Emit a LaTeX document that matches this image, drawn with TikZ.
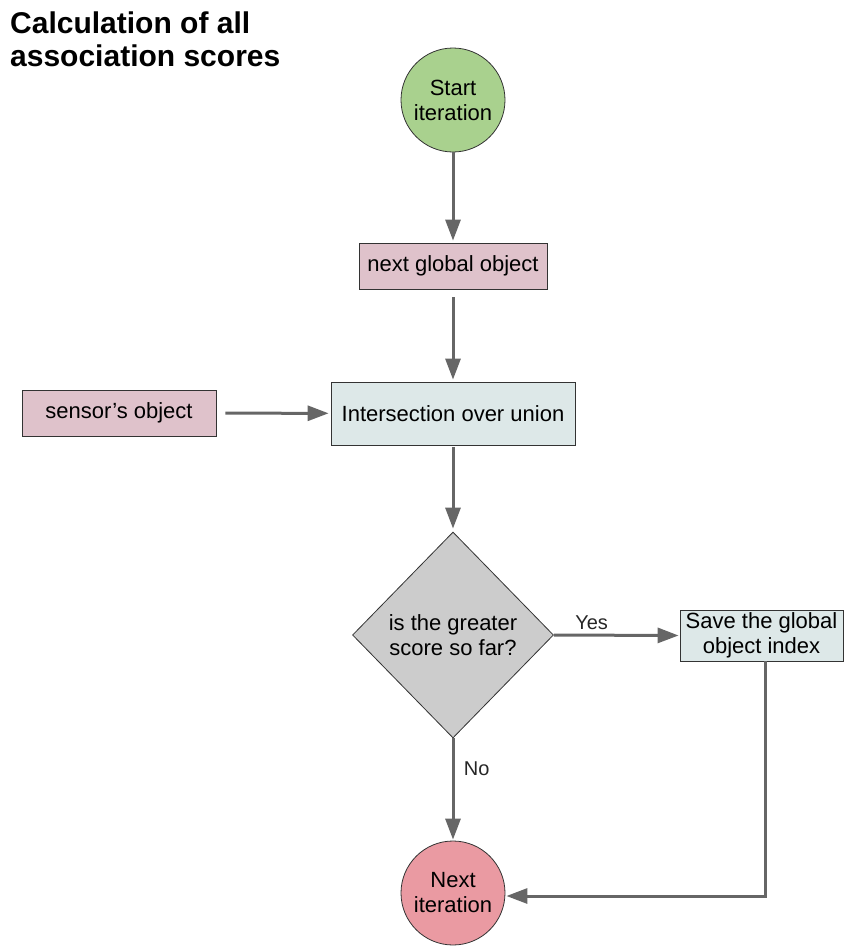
\documentclass[tikz,border=0pt]{standalone}
\usepackage{fontspec}
\setmainfont{Liberation Sans}
\usetikzlibrary{shapes.geometric,arrows.meta}

\definecolor{startgreen}{HTML}{A9D18E}
\definecolor{objpink}{HTML}{DFC2CB}
\definecolor{procblue}{HTML}{DDE8E8}
\definecolor{decgrey}{HTML}{CCCCCC}
\definecolor{endred}{HTML}{EA9AA2}
\definecolor{flowgrey}{HTML}{666666}
\definecolor{edgedark}{HTML}{333333}

\tikzset{
  base/.style={draw=edgedark, line width=0.8pt, align=center, inner sep=2pt,
    font=\fontsize{22}{25}\selectfont, text=black},
  terminal/.style={base, circle, minimum size=104pt},
  databox/.style={base, rectangle, fill=objpink, minimum height=46pt},
  procbox/.style={base, rectangle, fill=procblue},
  decision/.style={base, diamond, fill=decgrey, minimum width=201pt, minimum height=206pt, inner sep=0pt},
  flow/.style={draw=flowgrey, line width=3pt, -{Triangle[length=21pt,width=15pt]}},
  flowlabel/.style={font=\fontsize{20}{24}\selectfont, text=black!85}
}

\begin{document}
\begin{tikzpicture}[x=1pt,y=-1pt]
  \useasboundingbox (0,0) rectangle (845,946);

  % heading
  \node[anchor=north west, inner sep=0pt, align=left,
        font=\fontsize{30}{32.5}\selectfont\bfseries] (title) at (10,12)
        {Calculation of all\\association scores};

  % nodes
  \node[terminal, fill=startgreen] (start) at (453,100) {Start\\iteration};
  \node[databox, minimum width=188pt] (nextobj) at (453,266) {next global object};
  \node[procbox, minimum width=244pt, minimum height=63pt] (iou) at (453,413.5) {Intersection over union};
  \node[databox, minimum width=194pt] (sensor) at (119,413) {sensor’s object};
  \node[decision] (dec) at (453,635) {is the greater\\score so far?};
  \node[procbox, minimum width=163pt, minimum height=51pt, inner sep=0pt] (save) at (761.5,635.5) {Save the global\\object index};
  \node[terminal, fill=endred] (next) at (453,893) {Next\\iteration};
  \coordinate (corner) at (765,896);

  % connectors
  \draw[flow, shorten >=2pt] (start) -- (nextobj);
  \draw[flow, shorten <=8pt, shorten >=2pt] (nextobj) -- (iou);
  \draw[flow, shorten <=9pt, shorten >=2pt] (sensor) -- (iou);
  \draw[flow, shorten <=2pt, shorten >=3pt] (iou) -- (dec);
  \draw[flow, shorten >=1pt] (dec.east) -- node[flowlabel, above, pos=0.3, yshift=1pt] {Yes} (save.west);
  \draw[flow, shorten >=1pt] (dec.south) -- node[flowlabel, right, pos=0.3, xshift=6pt] {No} (next.north);
  \draw[flow, shorten >=1pt, line join=miter]
    (save.south -| corner) -- (corner) -- (next.east |- corner);
\end{tikzpicture}
\end{document}
